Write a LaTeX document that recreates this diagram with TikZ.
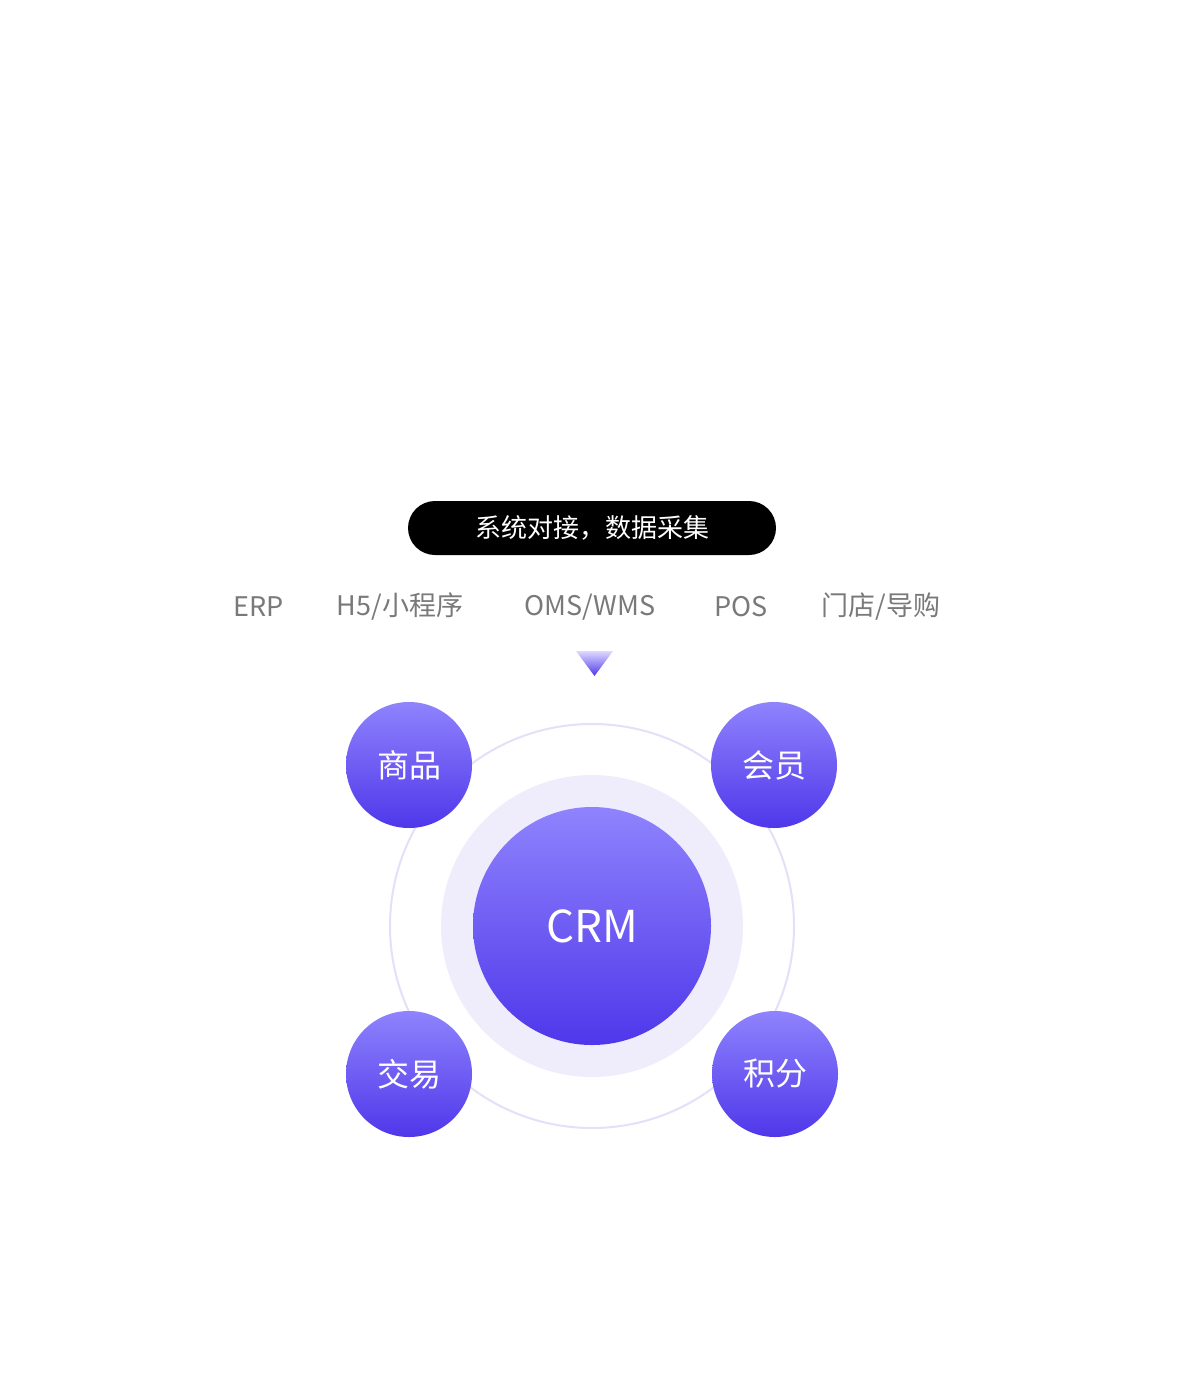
\documentclass[tikz,border=0pt]{standalone}
\usepackage{fontspec}
\setmainfont{Noto Sans CJK SC}
\begin{document}
\begin{tikzpicture}[x=0.5pt,y=-0.5pt,
  lbl/.style={text=gray!95!black,font=\fontsize{13.5}{16}\selectfont,inner sep=0},
  small/.style={circle,minimum size=63pt,inner sep=0,top color=violet1,bottom color=violet2,text=white,font=\fontsize{16}{19}\selectfont}]
\definecolor{violet1}{HTML}{8F83FD}
\definecolor{violet2}{HTML}{4F37EA}
\definecolor{ringc}{HTML}{E4E0FA}
\definecolor{haloc}{HTML}{EFEDFC}
\useasboundingbox (0,0) rectangle (1188,1380);
\fill[white] (0,0) rectangle (1188,1380);
\node[fill=black,rounded corners=13.5pt,minimum width=184pt,minimum height=27pt,inner sep=0,text=white,font=\fontsize{13}{16}\selectfont] (title) at (592,528) {系统对接，数据采集};
\node[lbl] (erp) at (259,607) {ERP};
\node[lbl] (h5) at (400,607) {H5/小程序};
\node[lbl] (oms) at (590,607) {OMS/WMS};
\node[lbl] (pos) at (741,607) {POS};
\node[lbl] (store) at (881,607) {门店/导购};
\shade[top color=violet1!30,bottom color=violet2] (576,651) -- (613,651) -- (594.5,676) -- cycle;
\coordinate (tri) at (594,676);
\draw[ringc,line width=1pt] (592,926) circle[radius=202];
\fill[haloc] (592,926) circle[radius=151];
\node[circle,minimum size=119pt,inner sep=0,top color=violet1,bottom color=violet2,text=white,font=\fontsize{22}{26}\selectfont] (crm) at (592,926) {CRM};
\node[small] (sp) at (409,765) {商品};
\node[small] (hy) at (774,765) {会员};
\node[small] (jy) at (409,1074) {交易};
\node[small] (jf) at (775,1074) {积分};
\end{tikzpicture}
\end{document}
